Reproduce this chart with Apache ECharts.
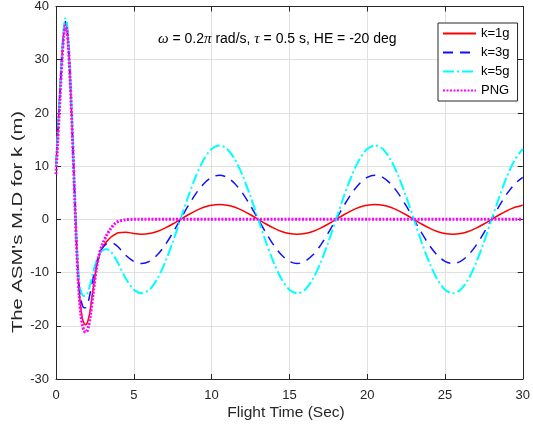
<!DOCTYPE html>
<html>
<head>
<meta charset="utf-8">
<script src="https://cdn.jsdelivr.net/npm/echarts@6/dist/echarts.min.js"></script>
<style>
html,body{margin:0;padding:0;background:#fff;}
#c{width:533px;height:430px;}
</style>
</head>
<body>
<div id="c"></div>
<script>
// Time samples (s)
var T = [0,0.1,0.2,0.3,0.4,0.5,0.6,0.7,0.8,0.9,1.0,1.1,1.2,1.3,1.4,1.5,1.6,1.7,1.8,1.9,2.0,2.1,2.2,
  2.4,2.6,2.8,3.0,3.25,3.5,3.75,4.0,
  4.5,5,5.5,6,6.5,7,7.5,8,8.5,9,9.5,10,10.5,11,11.5,12,12.5,13,13.5,14,14.5,15,15.5,16,16.5,17,17.5,
  18,18.5,19,19.5,20,20.5,21,21.5,22,22.5,23,23.5,24,24.5,25,25.5,26,26.5,27,27.5,28,28.5,29,29.5,30];

var k1g = [10,15.5,21,26.5,31.5,35.2,37,36,32.5,27,20,12.5,4.5,-3,-9.5,-13.8,-16.8,-18.7,-19.5,-19.8,-19.5,-18.5,-17,
  -12.8,-9,-6.6,-5.3,-4.2,-3.4,-2.9,-2.5,
  -2.4,-2.65,-2.78,-2.66,-2.27,-1.65,-0.87,0,0.87,1.65,2.27,2.66,2.8,2.66,2.27,1.65,0.87,0,-0.87,-1.65,-2.27,-2.66,-2.8,-2.66,-2.27,-1.65,-0.87,
  0,0.87,1.65,2.27,2.66,2.8,2.66,2.27,1.65,0.87,0,-0.87,-1.65,-2.27,-2.66,-2.8,-2.66,-2.27,-1.65,-0.87,0,0.87,1.65,2.27,2.66];

var k3g = [10,15.5,21,26.5,31.5,35.3,37.2,36.2,32.7,27.2,20.2,12.7,4.8,-2.8,-9,-12.8,-15,-16.2,-16.6,-16.6,-16.2,-15.2,-13.8,
  -10.8,-8.2,-6.4,-5.3,-4.6,-4.4,-4.6,-5.2,
  -6.8,-7.9,-8.3,-7.89,-6.71,-4.88,-2.56,0,2.56,4.88,6.71,7.89,8.3,7.89,6.71,4.88,2.56,0,-2.56,-4.88,-6.71,-7.89,-8.3,-7.89,-6.71,-4.88,-2.56,
  0,2.56,4.88,6.71,7.89,8.3,7.89,6.71,4.88,2.56,0,-2.56,-4.88,-6.71,-7.89,-8.3,-7.89,-6.71,-4.88,-2.56,0,2.56,4.88,6.71,7.89];

var k5g = [10,15.8,21.5,27,32,36,37.8,37,33.5,28,21,13.3,5.3,-2.3,-8.3,-11.8,-13.5,-14.2,-14.4,-14.4,-14.1,-13.3,-12.2,
  -9.8,-7.8,-6.5,-5.8,-5.6,-6,-7,-8.3,
  -11.2,-13.2,-13.9,-13.22,-11.25,-8.17,-4.3,0,4.3,8.17,11.25,13.22,13.9,13.22,11.25,8.17,4.3,0,-4.3,-8.17,-11.25,-13.22,-13.9,-13.22,-11.25,-8.17,-4.3,
  0,4.3,8.17,11.25,13.22,13.9,13.22,11.25,8.17,4.3,0,-4.3,-8.17,-11.25,-13.22,-13.9,-13.22,-11.25,-8.17,-4.3,0,4.3,8.17,11.25,13.22];

var png = [8.5,14,19.5,25.3,30.5,34.5,36.4,35.6,32.2,26.8,19.8,12.2,4.2,-3.5,-10,-14.6,-17.9,-19.9,-20.9,-21.2,-21,-20,-18.3,
  -13.6,-9.2,-6.3,-4.6,-3,-1.8,-0.9,-0.4,
  -0.05,0,0,0,0,0,0,0,0,0,0,0,0,0,0,0,0,0,0,0,0,0,0,0,0,0,0,
  0,0,0,0,0,0,0,0,0,0,0,0,0,0,0,0,0,0,0,0,0,0,0,0,0];

var seriesNames = ['k=1g','k=3g','k=5g','PNG'];
var xTicks = [0,5,10,15,20,25,30];
var yTicks = [-30,-20,-10,0,10,20,30,40];

function pairs(v){ return T.map(function(t,i){ return [t, v[i]]; }); }

var FONT = 'Liberation Sans, Arial, Helvetica, sans-serif';
var axisCol = '#262626';

var chart = echarts.init(document.getElementById('c'), null, {renderer:'canvas'});
chart.setOption({
  animation: false,
  backgroundColor: '#fff',
  grid: {left: 56, right: 8, top: 6, bottom: 51, containLabel: false},
  xAxis: [
    {type:'value', min:xTicks[0], max:xTicks[xTicks.length-1], interval:5, position:'bottom',
     axisLine:{onZero:false, lineStyle:{color:axisCol, width:1}},
     axisTick:{inside:true, length:5, lineStyle:{color:axisCol}},
     axisLabel:{color:axisCol, fontSize:13, fontFamily:FONT, margin:10},
     splitLine:{show:true, lineStyle:{color:'#e0e0e0', width:1}}},
    {type:'value', min:xTicks[0], max:xTicks[xTicks.length-1], interval:5, position:'top',
     axisLine:{onZero:false, lineStyle:{color:axisCol, width:1}},
     axisTick:{inside:true, length:5, lineStyle:{color:axisCol}},
     axisLabel:{show:false}, splitLine:{show:false}}
  ],
  yAxis: [
    {type:'value', min:yTicks[0], max:yTicks[yTicks.length-1], interval:10, position:'left',
     axisLine:{show:true, onZero:false, lineStyle:{color:axisCol, width:1}},
     axisTick:{show:true, inside:true, length:5, lineStyle:{color:axisCol}},
     axisLabel:{color:axisCol, fontSize:13, fontFamily:FONT, margin:7},
     splitLine:{show:true, lineStyle:{color:'#e0e0e0', width:1}}},
    {type:'value', min:yTicks[0], max:yTicks[yTicks.length-1], interval:10, position:'right',
     axisLine:{show:true, onZero:false, lineStyle:{color:axisCol, width:1}},
     axisTick:{show:true, inside:true, length:5, lineStyle:{color:axisCol}},
     axisLabel:{show:false}, splitLine:{show:false}}
  ],
  legend: {
    orient:'vertical', left:438, top:23,
    padding:[4,8,4,4], itemWidth:33, itemHeight:12, itemGap:6,
    borderColor:axisCol, borderWidth:1, backgroundColor:'#fff',
    itemStyle:{opacity:0},
    textStyle:{color:'#000', fontSize:13, fontFamily:FONT},
    data: seriesNames
  },
  series: [
    {name:seriesNames[0], type:'line', data:pairs(k1g), symbol:'none', smooth:0.3,
     lineStyle:{color:'#ff0000', width:1.5}, itemStyle:{color:'#ff0000'}},
    {name:seriesNames[1], type:'line', data:pairs(k3g), symbol:'none', smooth:0.3,
     lineStyle:{color:'#1010ff', width:1.5, type:[10,7]}, itemStyle:{color:'#1010ff'}},
    {name:seriesNames[2], type:'line', data:pairs(k5g), symbol:'none', smooth:0.3,
     lineStyle:{color:'#00ffff', width:2, type:[11,3,2,3]}, itemStyle:{color:'#00ffff'}},
    {name:seriesNames[3], type:'line', data:pairs(png), symbol:'none', smooth:0.3,
     lineStyle:{color:'#ff00ff', width:3, type:[2,1.5]}, itemStyle:{color:'#ff00ff'}}
  ],
  graphic: [
    {type:'text', x:158, y:39, z:100,
     style:{text:'{g|ω} = 0.2{g|π} rad/s, {g|τ} = 0.5 s, HE = -20 deg', fill:'#000', font:'14px '+FONT,
       textVerticalAlign:'middle',
       rich:{g:{fontStyle:'italic', fontFamily:'Liberation Serif, serif', fontSize:15, fill:'#000'}}}},
    {type:'text', x:18, y:222, rotation:Math.PI/2, scaleX:1.35, z:100,
     style:{text:"The ASM's M.D for k (m)", fill:axisCol, font:'15px '+FONT, textAlign:'center', textVerticalAlign:'middle'}},
    {type:'text', x:286, y:413, z:100,
     style:{text:'Flight Time (Sec)', fill:axisCol, font:'15.5px '+FONT, textAlign:'center', textVerticalAlign:'middle'}}
  ]
});
</script>
</body>
</html>
